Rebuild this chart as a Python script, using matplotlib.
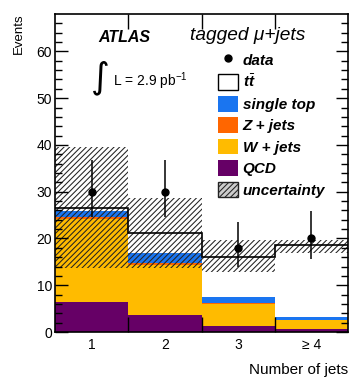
import matplotlib
matplotlib.use('Agg')
import matplotlib.pyplot as plt
import numpy as np
from matplotlib.patches import Patch
from matplotlib.lines import Line2D

plt.rcParams['font.family'] = ['Liberation Sans', 'DejaVu Sans']
plt.rcParams['mathtext.fontset'] = 'custom'
plt.rcParams['mathtext.rm'] = 'Liberation Sans'
plt.rcParams['mathtext.it'] = 'Liberation Sans:italic:bold'
plt.rcParams['hatch.linewidth'] = 0.75

# jet multiplicity bins
jet_bins = [1, 2, 3, 4]
tick_labels = ['1', '2', '3', '≥ 4']

# stacked predictions (events)
qcd = [6.4, 3.6, 1.35, 0.6]
wjets = [17.8, 10.7, 4.65, 2.0]
zjets = [0.3, 0.4, 0.1, 0.05]
single_top = [1.4, 2.3, 1.3, 0.65]
ttbar = [0.7, 4.1, 8.7, 15.2]

# uncertainty band
unc_lo = [13.7, 13.7, 12.9, 16.9]
unc_hi = [39.5, 28.6, 19.7, 19.7]

# data
data = [30, 30, 18, 20]
data_err_lo = [5.5, 5.5, 4.2, 4.4]
data_err_hi = [6.8, 6.8, 5.6, 5.8]

fig = plt.figure(figsize=(3.49, 3.78), dpi=100)
ax = fig.add_axes([55/349, 46/378, 293/349, 318/378])

x = np.array(jet_bins)
bottom = np.zeros(4)
stack = [(qcd, '#660066'), (wjets, '#ffbb00'), (zjets, '#ff6600'),
         (single_top, '#1a75f0'), (ttbar, 'white')]
for vals, col in stack:
    ax.bar(x, vals, width=1, bottom=bottom, color=col, linewidth=0)
    bottom = bottom + np.array(vals)

lo = np.array(unc_lo)
hi = np.array(unc_hi)
ax.bar(x, hi - lo, width=1, bottom=lo, fill=False, hatch='//////',
       edgecolor='#222222', linewidth=0)

edges = np.append(x - 0.5, x[-1] + 0.5)
ax.stairs(bottom, edges, baseline=None, color='black', lw=1.2)

ax.errorbar(x, data, yerr=[data_err_lo, data_err_hi], fmt='o', color='black',
            ms=5, elinewidth=1.1, capsize=0)

ax.set_xlim(0.5, 4.5)
ax.set_ylim(0, 68)
ax.set_xticks([1.5, 2.5, 3.5])
ax.set_xticklabels([])
ax.set_xticks(jet_bins, labels=tick_labels, minor=True)
ax.tick_params(axis='x', which='major', direction='in', length=11, width=1,
               top=True)
ax.tick_params(axis='x', which='minor', length=0, labelsize=10, pad=4)
ax.set_yticks(np.arange(0, 61, 10))
ax.set_yticks(np.arange(0, 68, 2), minor=True)
ax.tick_params(axis='y', which='major', direction='in', length=9, width=1,
               right=True, labelsize=10, pad=2)
ax.tick_params(axis='y', which='minor', direction='in', length=5, width=1,
               right=True)
for s in ax.spines.values():
    s.set_linewidth(1.2)

fig.text(19/349, 1 - 13/378, 'Events', rotation=90, ha='center', va='top',
         fontsize=9.5)
fig.text(348/349, 1 - 370/378, 'Number of jets', ha='right', va='center',
         fontsize=11)

fig.text(98/349, 1 - 38/378, 'ATLAS', fontsize=11.5, fontweight='bold',
         style='italic', ha='left', va='center')
fig.text(100/349, 1 - 78/378, '∫', fontsize=26, family='DejaVu Sans',
         ha='center', va='center')
fig.text(113/349, 1 - 81/378, 'L = 2.9 pb$^{\\mathregular{-1}}$', fontsize=10,
         ha='left', va='center')
fig.text(190/349, 1 - 35/378, 'tagged μ+jets', fontsize=13.8, style='italic',
         ha='left', va='center')

handles = [
    Line2D([], [], marker='o', ls='none', color='black', ms=5),
    Patch(facecolor='white', edgecolor='black', lw=1),
    Patch(facecolor='#1a75f0', lw=0),
    Patch(facecolor='#ff6600', lw=0),
    Patch(facecolor='#ffbb00', lw=0),
    Patch(facecolor='#660066', lw=0),
    Patch(facecolor='#cccccc', edgecolor='#222222', hatch='//////', lw=1),
]
labels = ['data', '$t\\bar{t}$', 'single top', 'Z + jets',
          'W + jets', 'QCD', 'uncertainty']
leg = ax.legend(handles, labels, loc='upper left',
                bbox_to_anchor=((221 - 55) / 293 - 0.01, (332 - 52) / 318),
                frameon=False, prop={'size': 11, 'style': 'italic',
                                     'weight': 'bold'},
                handlelength=1.3, handleheight=1.2, labelspacing=0.36,
                handletextpad=0.3, borderpad=0, borderaxespad=0)

fig.savefig('out.png', dpi=100)
